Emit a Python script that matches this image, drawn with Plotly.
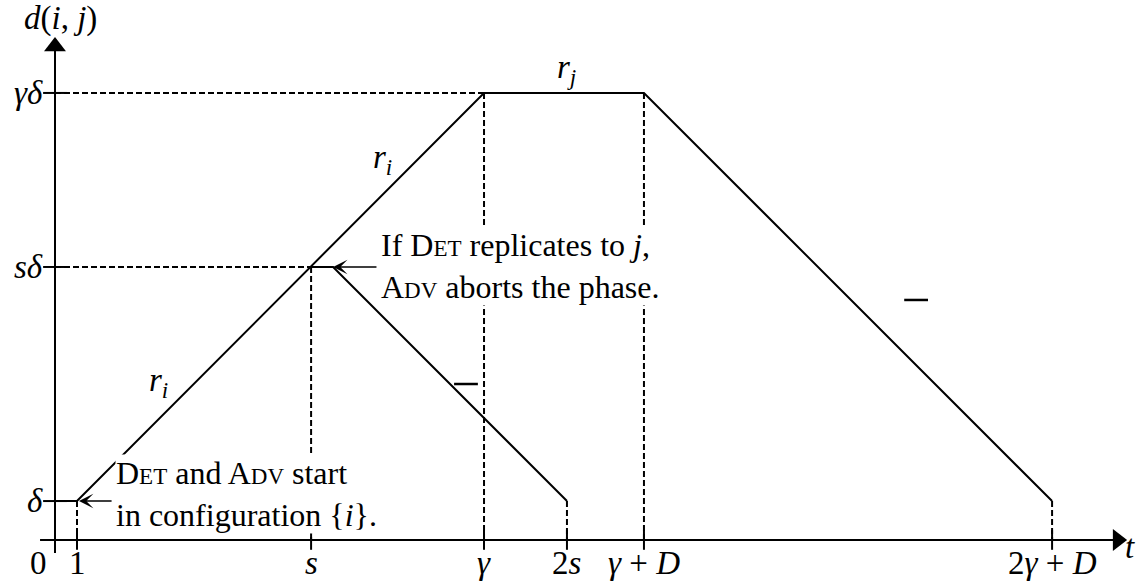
import plotly.graph_objects as go

# Schematic time positions (t axis) and distance levels (d axis)
t_labels = ["1", "<i>s</i>", "<i>γ</i>", "2<i>s</i>", "<i>γ</i> + <i>D</i>", "2<i>γ</i> + <i>D</i>"]
t_values = [1.0, 11.64, 19.5, 23.27, 26.77, 45.32]
d_labels = ["<i>δ</i>", "<i>sδ</i>", "<i>γδ</i>"]
d_values = [1.77, 12.41, 20.32]

t1, ts, tg, t2s, tgd, t2gd = t_values
d_delta, d_s, d_g = d_values

# Distance trajectory: start at δ, grow with r_i, hold at γδ with r_j, shrink back
main_t = [0.0, t1, tg, tgd, t2gd]
main_d = [d_delta, d_delta, d_g, d_g, d_delta]
# Aborted phase: leaves the rising branch at sδ and shrinks back to δ at 2s
abort_t = [ts, ts + t1, t2s]
abort_d = [d_s, d_s, d_delta]

FONT = "Liberation Serif"
FS = 33
FS_NOTE = 32
BLACK = "black"

# axis extents (schematic units)
X_MIN, X_MAX = -2.5, 49.18
Y_MIN, Y_MAX = -1.955, 24.545

fig = go.Figure()

dash_style = dict(color=BLACK, width=2, dash="6px,3px")

# horizontal guides from the d axis
for tt, dd in [(tg, d_g), (ts, d_s)]:
    fig.add_trace(go.Scatter(x=[0, tt], y=[dd, dd], mode="lines", line=dash_style,
                             hoverinfo="skip"))
# vertical guides down to the t axis
for tt, dd in [(t1, d_delta), (ts, d_s), (tg, d_g), (t2s, d_delta), (tgd, d_g), (t2gd, d_delta)]:
    fig.add_trace(go.Scatter(x=[tt, tt], y=[dd, 0], mode="lines", line=dash_style,
                             hoverinfo="skip"))

# trajectories
fig.add_trace(go.Scatter(x=main_t, y=main_d, mode="lines",
                         line=dict(color=BLACK, width=2), hoverinfo="skip"))
fig.add_trace(go.Scatter(x=abort_t, y=abort_d, mode="lines",
                         line=dict(color=BLACK, width=2), hoverinfo="skip"))

# axes with arrow heads
fig.add_trace(go.Scatter(x=[-0.68, 48.1], y=[0, 0], mode="lines",
                         line=dict(color=BLACK, width=2), hoverinfo="skip"))
fig.add_trace(go.Scatter(x=[0, 0], y=[-0.59, 22.23], mode="lines",
                         line=dict(color=BLACK, width=2), hoverinfo="skip"))
fig.add_trace(go.Scatter(x=[48.30], y=[0], mode="markers",
                         marker=dict(symbol="triangle-right", size=19, color=BLACK,
                                     line=dict(width=0)), hoverinfo="skip"))
fig.add_trace(go.Scatter(x=[0], y=[22.43], mode="markers",
                         marker=dict(symbol="triangle-up", size=19, color=BLACK,
                                     line=dict(width=0)), hoverinfo="skip"))

# tick marks
fig.add_trace(go.Scatter(x=t_values, y=[0] * len(t_values), mode="markers",
                         marker=dict(symbol="line-ns", size=14,
                                     line=dict(color=BLACK, width=2)), hoverinfo="skip"))
fig.add_trace(go.Scatter(x=[0] * len(d_values), y=d_values, mode="markers",
                         marker=dict(symbol="line-ew", size=17,
                                     line=dict(color=BLACK, width=2)), hoverinfo="skip"))

# short "−" marks on the shrinking branches
fig.add_trace(go.Scatter(x=[18.68, 39.14], y=[7.09, 10.91], mode="markers",
                         marker=dict(symbol="line-ew", size=17,
                                     line=dict(color=BLACK, width=2.5)), hoverinfo="skip"))

annotations = []


def label(text, x, y, xanchor="center", yanchor="middle", size=FS, **kw):
    annotations.append(dict(text=text, x=x, y=y, xref="x", yref="y", showarrow=False,
                            xanchor=xanchor, yanchor=yanchor,
                            font=dict(family=FONT, size=size, color=BLACK), **kw))


# tick labels
label("0", -0.77, -1.05)
for lab, tv in zip(t_labels, t_values):
    label(lab, tv, -1.05)
for lab, dv in zip(d_labels, d_values):
    label(lab, -0.45, dv, xanchor="right")

# axis titles
label("<i>d</i>(<i>i</i>, <i>j</i>)", 0.23, 23.7)
label("<i>t</i>", 48.85, -0.3)

# rate labels
label("<i>r<sub>i</sub></i>", 14.9, 17.3)
label("<i>r<sub>i</sub></i>", 4.7, 7.17)
label("<i>r<sub>j</sub></i>", 23.25, 21.4)

SC = "<span style='font-size:23px'>"

# call-out arrows pointing at the trajectory
for tip, tail, level in [(ts + t1, 14.68, d_s), (1.09, 2.64, d_delta)]:
    annotations.append(dict(text="", x=tip, y=level, ax=tail, ay=level,
                            xref="x", yref="y", axref="x", ayref="y",
                            showarrow=True, arrowhead=3, arrowsize=1.6, arrowwidth=1.5,
                            arrowcolor=BLACK, standoff=0, startstandoff=0))

# call-out texts (white box hides the guides running behind them)
label("If D" + SC + "ET</span> replicates to <i>j</i>,<br>A" + SC + "DV</span> aborts the phase.",
      14.77, 12.45, xanchor="left", align="left", bgcolor="white", borderpad=0, size=FS_NOTE)
label("D" + SC + "ET</span> and A" + SC + "DV</span> start<br>in configuration {<i>i</i>}.",
      2.73, 2.1, xanchor="left", align="left", bgcolor="white", borderpad=0, size=FS_NOTE)

fig.update_layout(
    width=1137, height=583,
    margin=dict(l=0, r=0, t=0, b=0),
    paper_bgcolor="white", plot_bgcolor="white",
    showlegend=False,
    xaxis=dict(range=[X_MIN, X_MAX], visible=False, fixedrange=True),
    yaxis=dict(range=[Y_MIN, Y_MAX], visible=False, fixedrange=True),
    annotations=annotations,
)

fig.write_html("out.html")
